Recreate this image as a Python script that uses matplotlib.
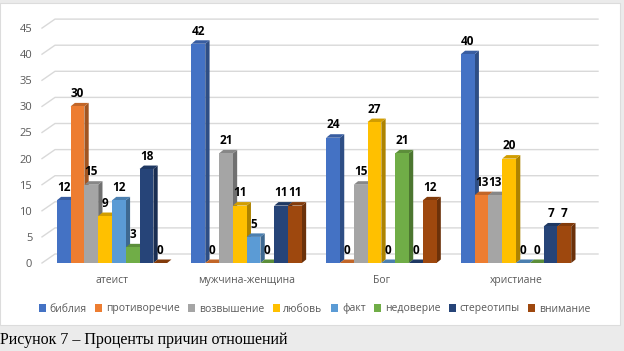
import numpy as np
import matplotlib.pyplot as plt
import matplotlib.colors as mcolors
from matplotlib.patches import Polygon, Rectangle, Patch

plt.rcParams['font.family'] = ['Open Sans', 'DejaVu Sans']

categories = ['атеист', 'мужчина-женщина', 'Бог', 'христиане']
series_names = ['библия', 'противоречие', 'возвышение', 'любовь',
                'факт', 'недоверие', 'стереотипы', 'внимание']
bibliya = [12, 42, 24, 40]
protivorechie = [30, 0, 0, 13]
vozvyshenie = [15, 21, 15, 13]
lyubov = [9, 11, 27, 20]
fakt = [12, 5, 0, 0]
nedoverie = [3, 0, 21, 0]
stereotipy = [18, 11, 0, 7]
vnimanie = [0, 11, 12, 7]
series_values = [bibliya, protivorechie, vozvyshenie, lyubov,
                 fakt, nedoverie, stereotipy, vnimanie]
colors = ['#4472C4', '#ED7D31', '#A5A5A5', '#FFC000',
          '#5B9BD5', '#70AD47', '#264478', '#9E480E']
yticks = np.arange(0, 50, 5)

def shade(c, f):
    return tuple(np.array(mcolors.to_rgb(c)) * f)

fig = plt.figure(figsize=(6.24, 3.51), dpi=100)
fig.patch.set_facecolor('#ebebeb')
# white chart panel
fig.patches.append(Rectangle((0, 26/351), 620/624, 322/351,
                             transform=fig.transFigure, facecolor='white',
                             edgecolor='#dcdcdc', lw=0.8, zorder=-1))

ax = fig.add_axes([42/624, 88/351, 556/624, 47*5.22/351])
ax.set_xlim(-70/134.7, 3 + 82/134.7)
ax.set_ylim(0, 47)
ax.patch.set_alpha(0)
for s in ax.spines.values():
    s.set_visible(False)

px_x = 1/134.7   # one pixel in x data units
px_y = 1/5.22    # one pixel in y data units

# back wall gridlines with the 3D slant on the left
x0, x1 = ax.get_xlim()
for v in yticks:
    ax.plot([x0, x0 + 13*px_x, x1], [v, v + 9*px_y, v + 9*px_y],
            color='#d9d9d9', lw=1.0, zorder=1, clip_on=False)

w = 13.8 * px_x
ddx = 4.3 * px_x
ddy = 3.5 * px_y
for i, (vals, c) in enumerate(zip(series_values, colors)):
    for j, h in enumerate(vals):
        xl = j + (i - 3.5) * w - w/2
        z = 2 + i*0.1
        ax.add_patch(Polygon([(xl + w, 0), (xl + w + ddx, ddy),
                              (xl + w + ddx, h + ddy), (xl + w, h)],
                             closed=True, facecolor=shade(c, 0.68),
                             edgecolor='none', zorder=z))
        ax.add_patch(Polygon([(xl, h), (xl + ddx, h + ddy),
                              (xl + w + ddx, h + ddy), (xl + w, h)],
                             closed=True, facecolor=shade(c, 0.82),
                             edgecolor='none', zorder=z))
        ax.add_patch(Rectangle((xl, 0), w, h, facecolor=c,
                               edgecolor='none', zorder=z))
        ax.annotate(str(h), (xl + w/2, h), xytext=(0, 4.5),
                    textcoords='offset points', ha='center', va='bottom',
                    fontsize=8.5, fontweight='bold', color='black', zorder=5)

ax.set_yticks(yticks)
ax.set_yticklabels([str(v) for v in yticks])
ax.set_xticks(range(len(categories)))
ax.set_xticklabels(categories)
ax.tick_params(axis='y', length=0, pad=7, labelsize=8, labelcolor='#595959')
ax.tick_params(axis='x', length=0, pad=8.5, labelsize=7.5, labelcolor='#595959')

handles = [Patch(facecolor=c, edgecolor='none') for c in colors]
fig.legend(handles, series_names, loc='center', bbox_to_anchor=(0.504, 1 - 309/351),
           ncol=8, frameon=False, fontsize=7.5, handlelength=0.7, handleheight=0.7,
           handletextpad=0.35, columnspacing=0.8, labelcolor='#595959')

fig.text(0.0, 1 - 339.5/351, 'Рисунок 7 – Проценты причин отношений',
         family='Liberation Serif', fontsize=11.5, va='center', ha='left')

fig.savefig('out.png', dpi=100, facecolor=fig.get_facecolor())
